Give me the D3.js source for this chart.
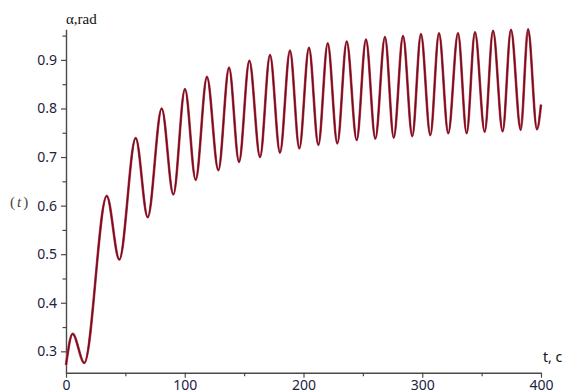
<!DOCTYPE html>
<html>
<head>
<meta charset="utf-8">
<script src="https://cdn.jsdelivr.net/npm/d3@7"></script>
<style>
  html, body { margin: 0; padding: 0; background: #fff; }
  svg { display: block; }
  .serif { font-family: "Liberation Serif", "Times New Roman", "DejaVu Serif", serif; }
  .sans { font-family: "Noto Sans", "Open Sans", sans-serif; }
</style>
</head>
<body>
<div id="view"></div>
<script>
// extrema of alpha(t) (t in s, alpha in rad)
const tValues = [0, 5.6, 15.4, 34.3, 44.9, 58.7, 68.8, 80.6, 90.4, 100.2,
  109.2, 118.7, 128.3, 137.3, 145.7, 154.4, 163.4, 171.8, 180.2, 188.6,
  196.5, 204.6, 212.5, 220.4, 228.5, 236.4, 244.8, 252.6, 260.5, 268.6,
  276.0, 283.8, 291.6, 298.9, 306.8, 314.1, 321.9, 330.1, 337.4, 344.4,
  352.6, 359.6, 367.7, 374.7, 382.9, 389.1, 396.6, 400];
const alphaValues = [0.272, 0.336, 0.276, 0.620, 0.489, 0.739, 0.576, 0.800, 0.623, 0.840,
  0.653, 0.865, 0.673, 0.884, 0.690, 0.898, 0.700, 0.910, 0.709, 0.919,
  0.718, 0.925, 0.725, 0.934, 0.728, 0.938, 0.735, 0.942, 0.738, 0.947,
  0.740, 0.949, 0.743, 0.953, 0.745, 0.955, 0.749, 0.955, 0.749, 0.957,
  0.752, 0.960, 0.753, 0.962, 0.756, 0.963, 0.757, 0.808];

const xTicks = [0, 100, 200, 300, 400];
const xMinorTicks = [50, 150, 250, 350];
const yTicks = [0.3, 0.4, 0.5, 0.6, 0.7, 0.8, 0.9];
const yMinorTicks = [0.35, 0.45, 0.55, 0.65, 0.75, 0.85, 0.95];

const yLabel = "α,rad";
const xLabel = "t, c";

const width = 566, height = 390;
const svg = d3.select("#view").append("svg")
  .attr("width", width)
  .attr("height", height);

const mapX = d3.scaleLinear().domain([0, 400]).range([66, 541]);
const mapY = d3.scaleLinear().domain([0.256, 0.963]).range([372.7, 29.3]);

const axisColor = "#4a4a4a";

// minor ticks first (no labels)
svg.append("g")
  .attr("transform", `translate(0, ${mapY.range()[0]})`)
  .call(d3.axisBottom(mapX).tickValues(xMinorTicks).tickSize(3.5).tickFormat(""))
  .call(g => g.select(".domain").remove());
svg.append("g")
  .attr("transform", `translate(${mapX.range()[0]}, 0)`)
  .call(d3.axisLeft(mapY).tickValues(yMinorTicks).tickSize(3.5).tickFormat(""))
  .call(g => g.select(".domain").remove());

svg.append("g")
  .attr("class", "x axis")
  .attr("transform", `translate(0, ${mapY.range()[0]})`)
  .call(d3.axisBottom(mapX).tickValues(xTicks).tickSize(5).tickPadding(2).tickFormat(d3.format("d")).tickSizeOuter(0));

svg.append("g")
  .attr("class", "y axis")
  .attr("transform", `translate(${mapX.range()[0]}, 0)`)
  .call(d3.axisLeft(mapY).tickValues(yTicks).tickSize(5).tickPadding(4).tickFormat(d3.format(".1f")).tickSizeOuter(0));

svg.selectAll("g").attr("font-family", null).attr("font-size", null);
svg.selectAll(".tick line").attr("stroke", axisColor).attr("stroke-width", 1.2);
svg.selectAll(".domain").attr("stroke", axisColor).attr("stroke-width", 1.4);
svg.selectAll(".tick text")
  .attr("class", "sans")
  .attr("fill", "#1c2340")
  .style("font-size", "14px");

// the curve
const line = d3.line()
  .x((d, i) => mapX(tValues[i]))
  .y(d => mapY(d))
  .curve(d3.curveMonotoneX);

svg.append("path")
  .datum(alphaValues)
  .attr("d", line)
  .attr("fill", "none")
  .attr("stroke", "#b04a5a")
  .attr("stroke-width", 2.6)
  .attr("stroke-linejoin", "round");
svg.append("path")
  .datum(alphaValues)
  .attr("d", line)
  .attr("fill", "none")
  .attr("stroke", "#7d0a1c")
  .attr("stroke-width", 1.5)
  .attr("stroke-linejoin", "round");

// labels
svg.append("text")
  .attr("class", "serif")
  .attr("x", 66)
  .attr("y", 24)
  .style("font-size", "15px")
  .attr("fill", "#111")
  .text(yLabel);

svg.append("text")
  .attr("class", "sans")
  .attr("x", 543)
  .attr("y", 362)
  .style("font-size", "14px")
  .attr("fill", "#111")
  .text(xLabel);

const tLab = svg.append("text")
  .attr("class", "serif")
  .attr("x", 10)
  .attr("y", 207)
  .style("font-size", "15px")
  .attr("fill", "#444");
tLab.append("tspan").text("(");
tLab.append("tspan").attr("font-style", "italic").attr("dx", 2).text("t");
tLab.append("tspan").attr("dx", 2).text(")");
</script>
</body>
</html>
